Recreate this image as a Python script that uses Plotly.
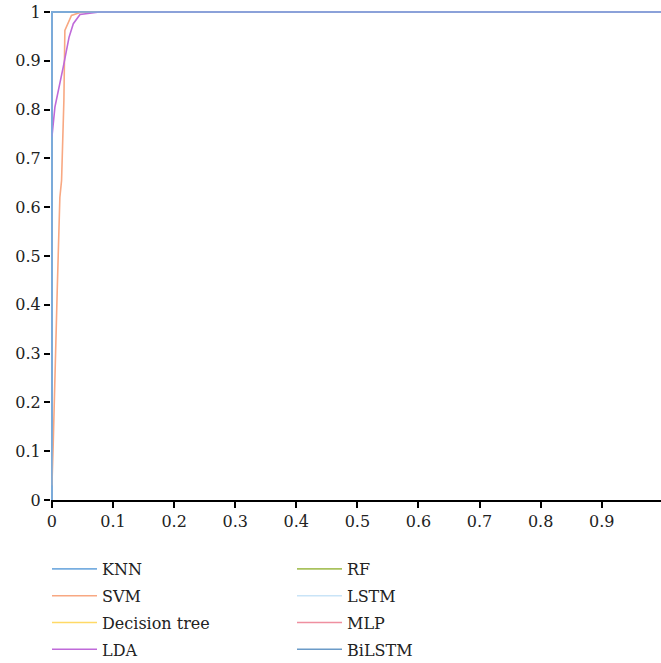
import plotly.graph_objects as go

names = ["KNN", "SVM", "Decision tree", "LDA", "RF", "LSTM", "MLP", "BiLSTM"]
colors = ["#78aee0", "#f8a882", "#ffd966", "#bf6ad9", "#a9c25e", "#c9e4f7", "#ef8fa0", "#6b9bc8"]

# ROC curves (FPR, TPR)
knn_fpr = [0, 0, 1]
knn_tpr = [0, 1, 1]
svm_fpr = [0, 0.002, 0.0087, 0.013, 0.0158, 0.0196, 0.0212, 0.032, 0.046, 0.067, 1]
svm_tpr = [0.03, 0.109, 0.43, 0.62, 0.655, 0.819, 0.962, 0.993, 0.999, 1.0, 1]
dt_fpr = [0, 0, 1]
dt_tpr = [0, 1, 1]
lda_fpr = [0, 0.0049, 0.0185, 0.028, 0.035, 0.046, 0.078, 1]
lda_tpr = [0.744, 0.805, 0.887, 0.948, 0.976, 0.995, 1.0, 1]
rf_fpr = [0, 0, 1]
rf_tpr = [0, 1, 1]
lstm_fpr = [0, 0, 1]
lstm_tpr = [0, 1, 1]
mlp_fpr = [0, 0, 1]
mlp_tpr = [0, 1, 1]
bilstm_fpr = [0, 0, 1]
bilstm_tpr = [0, 1, 1]

xs = [knn_fpr, svm_fpr, dt_fpr, lda_fpr, rf_fpr, lstm_fpr, mlp_fpr, bilstm_fpr]
ys = [knn_tpr, svm_tpr, dt_tpr, lda_tpr, rf_tpr, lstm_tpr, mlp_tpr, bilstm_tpr]

tick_vals = [0, 0.1, 0.2, 0.3, 0.4, 0.5, 0.6, 0.7, 0.8, 0.9, 1]
xtick_vals = [0, 0.1, 0.2, 0.3, 0.4, 0.5, 0.6, 0.7, 0.8, 0.9]

FONT = "DejaVu Serif"

fig = go.Figure()
draw_order = [2, 4, 5, 6, 7, 1, 3, 0]
for i in draw_order:
    fig.add_trace(go.Scatter(
        x=xs[i], y=ys[i], mode="lines", name=names[i],
        line=dict(color=colors[i], width=1.6),
        legend="legend" if i < 4 else "legend2",
        legendrank=i + 1, legendgroup=names[i],
    ))

legend_common = dict(
    font=dict(family=FONT, size=16, color="#222"),
    bgcolor="rgba(0,0,0,0)", xref="container", yref="container",
    yanchor="top", xanchor="left", traceorder="grouped", tracegroupgap=3,
    itemwidth=45,
)
fig.update_layout(
    width=661, height=663,
    margin=dict(l=51, r=0, t=11, b=163, autoexpand=False),
    plot_bgcolor="white", paper_bgcolor="white",
    font=dict(family=FONT, size=16, color="#222"),
    legend=dict(x=47 / 661, y=1 - 552 / 663, **legend_common),
    legend2=dict(x=292 / 661, y=1 - 552 / 663, **legend_common),
    xaxis=dict(range=[-0.0015, 0.997], tickvals=xtick_vals, ticktext=[f"{v:g}" for v in xtick_vals],
               showgrid=False, zeroline=False, showline=True, linecolor="black", linewidth=1.5,
               ticks="outside", ticklen=6, tickcolor="black", tickwidth=1.5, layer="below traces"),
    yaxis=dict(range=[0, 1.002], tickvals=tick_vals, ticktext=[f"{v:g}" for v in tick_vals],
               showgrid=False, zeroline=False, showline=False,
               ticks="outside", ticklen=6, tickcolor="black", tickwidth=1.5, layer="below traces"),
)

fig.write_html("out.html")
